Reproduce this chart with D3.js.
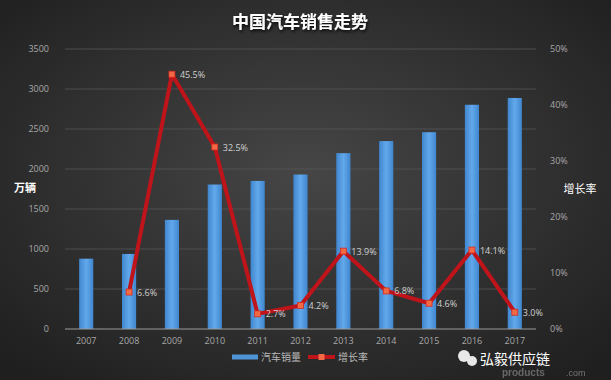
<!DOCTYPE html>
<html>
<head>
<meta charset="utf-8">
<script src="https://cdn.jsdelivr.net/npm/d3@7"></script>
<style>
  body { margin: 0; background: #2b2b2b; }
  svg { display: block; font-family: "Noto Sans CJK SC", "Noto Sans", sans-serif; }
</style>
</head>
<body>
<div id="chart"></div>
<script>
// data
var years = ["2007", "2008", "2009", "2010", "2011", "2012", "2013", "2014", "2015", "2016", "2017"];
var sales = [879, 938, 1364, 1806, 1851, 1931, 2198, 2349, 2460, 2803, 2888];
var growth = [null, 6.6, 45.5, 32.5, 2.7, 4.2, 13.9, 6.8, 4.6, 14.1, 3.0];
var leftTicks = [0, 500, 1000, 1500, 2000, 2500, 3000, 3500];
var rightTicks = [0, 10, 20, 30, 40, 50];

var W = 611, H = 380;
var margin = {top: 49, right: 75, bottom: 51, left: 65};
var w = W - margin.left - margin.right,
    h = H - margin.top - margin.bottom;

var svg = d3.select("#chart").append("svg")
    .attr("width", W)
    .attr("height", H);

var defs = svg.append("defs");
var bg = defs.append("radialGradient").attr("id", "bg")
    .attr("cx", "50%").attr("cy", "45%").attr("r", "70%");
bg.append("stop").attr("offset", "0%").attr("stop-color", "#464646");
bg.append("stop").attr("offset", "100%").attr("stop-color", "#1f1f1f");

var barGrad = defs.append("linearGradient").attr("id", "barGrad")
    .attr("x1", "0").attr("x2", "1").attr("y1", "0").attr("y2", "0");
barGrad.append("stop").attr("offset", "0%").attr("stop-color", "#3f86cf");
barGrad.append("stop").attr("offset", "50%").attr("stop-color", "#62a8ea");
barGrad.append("stop").attr("offset", "100%").attr("stop-color", "#3f86cf");

var shadow = defs.append("filter").attr("id", "shadow");
shadow.append("feDropShadow").attr("dx", 1).attr("dy", 2)
    .attr("stdDeviation", 1.5).attr("flood-color", "#000").attr("flood-opacity", 0.8);

svg.append("rect").attr("width", W).attr("height", H).attr("fill", "url(#bg)");

svg.append("text")
    .attr("x", 300).attr("y", 28)
    .attr("text-anchor", "middle")
    .attr("fill", "#ffffff")
    .attr("font-size", 17)
    .attr("font-weight", "bold")
    .attr("filter", "url(#shadow)")
    .text("中国汽车销售走势");

var chart = svg.append("g")
    .attr("transform", "translate(" + margin.left + "," + margin.top + ")");

var x = d3.scaleBand().domain(years).range([0, w]).paddingInner(0.67).paddingOuter(0.33),
    yL = d3.scaleLinear().domain([0, 3500]).range([h, 0]),
    yR = d3.scaleLinear().domain([0, 50]).range([h, 0]);

// gridlines
chart.append("g")
    .selectAll("line")
    .data(leftTicks.slice(1))
    .enter()
    .append("line")
    .attr("x1", 0).attr("x2", w)
    .attr("y1", function (d) { return yL(d); })
    .attr("y2", function (d) { return yL(d); })
    .attr("stroke", "#555555")
    .attr("stroke-width", 0.8);

// bars
chart.append("g")
    .selectAll("rect")
    .data(sales)
    .enter()
    .append("rect")
    .attr("x", function (d, i) { return x(years[i]); })
    .attr("y", function (d) { return yL(d); })
    .attr("width", x.bandwidth())
    .attr("height", function (d) { return h - yL(d); })
    .attr("fill", "url(#barGrad)");

// baseline
chart.append("line")
    .attr("x1", 0).attr("x2", w)
    .attr("y1", h).attr("y2", h)
    .attr("stroke", "#9a9a9a")
    .attr("stroke-width", 1);

// axes
var leftAxis = d3.axisLeft(yL).tickValues(leftTicks).tickSize(0).tickPadding(16).tickFormat(d3.format("d"));
var rightAxis = d3.axisRight(yR).tickValues(rightTicks).tickSize(0).tickPadding(14)
    .tickFormat(function (d) { return d + "%"; });
var bottomAxis = d3.axisBottom(x).tickSize(0).tickPadding(9);

[[leftAxis, "translate(0,0)"], [rightAxis, "translate(" + w + ",0)"], [bottomAxis, "translate(0," + h + ")"]]
    .forEach(function (a) {
        var g = chart.append("g").attr("transform", a[1]).call(a[0]);
        g.select(".domain").remove();
        g.selectAll("text").attr("fill", "#a8a8a8").attr("font-size", 9)
            .attr("font-family", "\"Open Sans\", sans-serif");
    });

// axis titles
svg.append("text").attr("x", 25).attr("y", 192).attr("text-anchor", "middle")
    .attr("fill", "#ffffff").attr("font-size", 11).attr("font-weight", "bold").text("万辆");
svg.append("text").attr("x", 580).attr("y", 193).attr("text-anchor", "middle")
    .attr("fill", "#ffffff").attr("font-size", 11).text("增长率");

// growth line
var pts = growth.map(function (d, i) { return {year: years[i], v: d}; })
    .filter(function (d) { return d.v !== null; });
var line = d3.line()
    .x(function (d) { return x(d.year) + x.bandwidth() / 2; })
    .y(function (d) { return yR(d.v); });

chart.append("path")
    .datum(pts)
    .attr("d", line)
    .attr("fill", "none")
    .attr("stroke", "#c0141b")
    .attr("stroke-width", 4)
    .attr("stroke-linejoin", "round");

chart.append("g")
    .selectAll("rect")
    .data(pts)
    .enter()
    .append("rect")
    .attr("x", function (d) { return x(d.year) + x.bandwidth() / 2 - 3; })
    .attr("y", function (d) { return yR(d.v) - 3; })
    .attr("width", 6).attr("height", 6)
    .attr("fill", "#f26a45")
    .attr("stroke", "#d42a20")
    .attr("stroke-width", 0.8);

chart.append("g")
    .selectAll("text")
    .data(pts)
    .enter()
    .append("text")
    .attr("x", function (d) { return x(d.year) + x.bandwidth() / 2 + 8; })
    .attr("y", function (d) { return yR(d.v) + 3.5; })
    .attr("fill", "#d0d0d0")
    .attr("font-size", 9)
    .attr("font-family", "\"Open Sans\", sans-serif")
    .text(function (d) { return d.v.toFixed(1) + "%"; });

// legend
var legend = svg.append("g").attr("transform", "translate(0,357)");
legend.append("rect").attr("x", 232).attr("y", -2.5).attr("width", 26).attr("height", 5).attr("fill", "#4f94d6");
legend.append("text").attr("x", 261).attr("y", 4).attr("fill", "#b8b8b8").attr("font-size", 10).text("汽车销量");
legend.append("line").attr("x1", 308).attr("x2", 335).attr("y1", 0).attr("y2", 0)
    .attr("stroke", "#c0141b").attr("stroke-width", 4);
legend.append("rect").attr("x", 318.5).attr("y", -3).attr("width", 6).attr("height", 6).attr("fill", "#f26a45");
legend.append("text").attr("x", 338).attr("y", 4).attr("fill", "#b8b8b8").attr("font-size", 10).text("增长率");

// watermark
var wm = svg.append("g");
wm.append("circle").attr("cx", 464).attr("cy", 356).attr("r", 6).attr("fill", "#e8e8e8");
wm.append("circle").attr("cx", 472).attr("cy", 361).attr("r", 5).attr("fill", "#e8e8e8");
wm.append("text").attr("x", 480).attr("y", 364).attr("fill", "#ffffff").attr("font-size", 14).text("弘毅供应链");
wm.append("text").attr("x", 502).attr("y", 376).attr("fill", "#bbbbbb").attr("font-size", 10)
    .attr("font-weight", "bold").attr("opacity", 0.45).attr("font-family", "Arial, sans-serif").text("products");
wm.append("text").attr("x", 566).attr("y", 376).attr("fill", "#bbbbbb").attr("font-size", 9)
    .attr("opacity", 0.55).attr("font-family", "Arial, sans-serif").text(".com");
</script>
</body>
</html>
